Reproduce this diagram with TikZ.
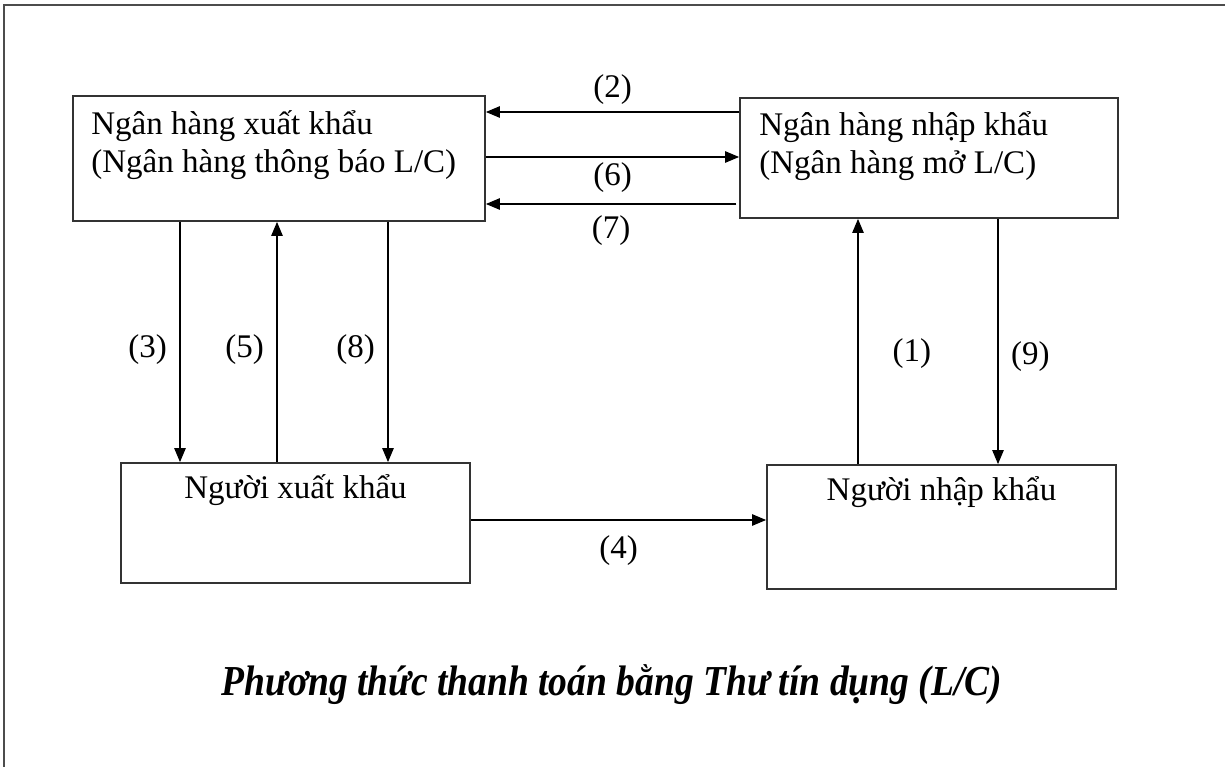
\documentclass[tikz,border=0pt]{standalone}
\usepackage{fontspec}
\usepackage{graphicx}
\setmainfont{Liberation Serif}
\usetikzlibrary{arrows.meta}

\tikzset{
  box/.style={draw=black!80, line width=1.3pt, rectangle, inner sep=0pt},
  arr/.style={-{Triangle[length=10.5pt,width=8.5pt]}, line width=1.1pt},
  txt/.style={inner sep=0pt, align=left, font=\fontsize{24.75}{28.5}\selectfont},
  num/.style={font=\fontsize{24.75}{28.5}\selectfont},
}

\begin{document}
\begin{tikzpicture}[x=0.75pt, y=-0.75pt]
  \useasboundingbox (0,0) rectangle (1225,767);

  % Frame lines at the top and left
  \draw[black!70, line width=1.5pt] (4,767) -- (4,5) -- (1225,5);

  % The four boxes: two banks on top, exporter and importer below
  \node[box, minimum width=309pt, minimum height=93.75pt] (xkbank) at (279,158.5) {};
  \node[box, minimum width=283.5pt, minimum height=90pt] (nkbank) at (929,158) {};
  \node[box, minimum width=261.75pt, minimum height=90pt] (xk) at (295.5,523) {};
  \node[box, minimum width=261.75pt, minimum height=93pt] (nk) at (941.5,527) {};

  % Texts in the boxes (base is the baseline of the last line)
  \node[txt, anchor=base west] at ([shift={(19,77)}]xkbank.north west)
    {Ngân hàng xuất khẩu\\(Ngân hàng thông báo L/C)};
  \node[txt, anchor=base west] at ([shift={(20,76)}]nkbank.north west)
    {Ngân hàng nhập khẩu\\(Ngân hàng mở L/C)};
  \node[txt, anchor=base] at ([yshift=-27pt]xk.north) {Người xuất khẩu};
  \node[txt, anchor=base] at ([yshift=-27pt]nk.north) {Người nhập khẩu};

  % Arrows between the two banks
  \draw[arr] (nkbank.west |- 0,112) -- (xkbank.east |- 0,112)
    node[num, midway, above=2pt] {(2)};
  \draw[arr] (xkbank.east |- 0,157) -- (nkbank.west |- 0,157)
    node[num, midway, below=0pt] {(6)};
  \draw[arr] ([xshift=-2pt]nkbank.west |- 0,204) -- (xkbank.east |- 0,204)
    node[num, midway, below=5pt] {(7)};

  % Arrows between exporter and its bank
  \draw[arr] (xkbank.south -| 180,0) -- (xk.north -| 180,0)
    node[num, pos=.53, left=6pt] {(3)};
  \draw[arr] (xk.north -| 277,0) -- (xkbank.south -| 277,0)
    node[num, pos=.47, left=6pt] {(5)};
  \draw[arr] (xkbank.south -| 388,0) -- (xk.north -| 388,0)
    node[num, pos=.53, left=6pt] {(8)};

  % Arrows between importer and its bank
  \draw[arr] (nk.north -| 858,0) -- (nkbank.south -| 858,0)
    node[num, pos=.45, right=22pt] {(1)};
  \draw[arr] (nkbank.south -| 998,0) -- (nk.north -| 998,0)
    node[num, pos=.56, right=6pt] {(9)};

  % Exporter to importer
  \draw[arr] (xk.east |- 0,520) -- (nk.west |- 0,520)
    node[num, midway, below=8pt] {(4)};

  % Caption
  \node[anchor=base, font=\fontsize{32}{36}\selectfont] (title) at (612,695)
    {\scalebox{0.88}[1]{\bfseries\itshape Phương thức thanh toán bằng Thư tín dụng (L/C)}};
\end{tikzpicture}
\end{document}
